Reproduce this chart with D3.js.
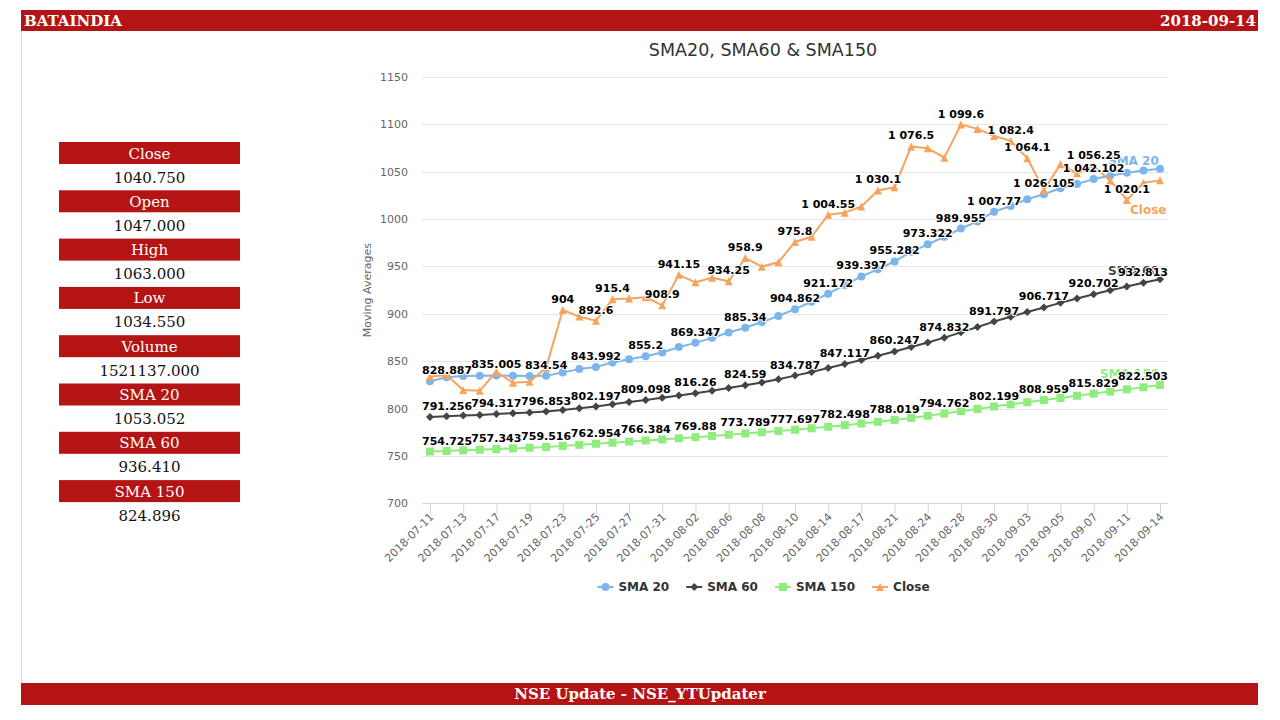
<!DOCTYPE html>
<html>
<head>
<meta charset="utf-8">
<script src="https://cdn.jsdelivr.net/npm/d3@7"></script>
<style>
  body { margin: 0; background: #fff; }
  svg { display: block; }
</style>
</head>
<body>
<svg id="page" width="1280" height="720"></svg>
<script>
// DATA /////////////////////////////////////////
const dates = ["2018-07-11","2018-07-12","2018-07-13","2018-07-16","2018-07-17","2018-07-18","2018-07-19","2018-07-20",
  "2018-07-23","2018-07-24","2018-07-25","2018-07-26","2018-07-27","2018-07-30","2018-07-31","2018-08-01","2018-08-02",
  "2018-08-03","2018-08-06","2018-08-07","2018-08-08","2018-08-09","2018-08-10","2018-08-13","2018-08-14","2018-08-16",
  "2018-08-17","2018-08-20","2018-08-21","2018-08-23","2018-08-24","2018-08-27","2018-08-28","2018-08-29","2018-08-30",
  "2018-08-31","2018-09-03","2018-09-04","2018-09-05","2018-09-06","2018-09-07","2018-09-10","2018-09-11","2018-09-12",
  "2018-09-14"];

const sma20 = [828.887, 833.02, 834.35, 834.71, 835.005, 834.62, 834.48, 834.54, 838.21, 841.65, 843.992, 848.66,
  852.04, 855.2, 859.13, 864.87, 869.347, 874.62, 880.31, 885.34, 891.28, 897.66, 904.862, 912.74, 921.172, 930.25,
  939.397, 946.91, 955.282, 965.38, 973.322, 981.27, 989.955, 997.43, 1007.77, 1013.62, 1020.95, 1026.105, 1032.37,
  1036.84, 1042.102, 1045.63, 1048.86, 1051.14, 1053.052];

const sma60 = [791.256, 792.04, 792.71, 793.35, 794.317, 795.18, 795.93, 796.853, 798.52, 800.34, 802.197, 804.48,
  806.87, 809.098, 811.46, 813.92, 816.26, 818.84, 821.63, 824.59, 827.62, 831.05, 834.787, 838.61, 842.83, 847.117,
  851.34, 855.72, 860.247, 864.91, 869.68, 874.832, 880.41, 886.07, 891.797, 896.94, 901.88, 906.717, 911.56, 916.23,
  920.702, 924.79, 928.83, 932.813, 936.41];

const sma150 = [754.725, 755.31, 755.94, 756.62, 757.343, 758.04, 758.77, 759.516, 760.64, 761.79, 762.954, 764.09,
  765.24, 766.384, 767.51, 768.67, 769.88, 771.15, 772.46, 773.789, 775.08, 776.37, 777.697, 779.22, 780.83, 782.498,
  784.28, 786.13, 788.019, 790.18, 792.43, 794.762, 797.21, 799.68, 802.199, 804.47, 806.71, 808.959, 811.23, 813.51,
  815.829, 818.07, 820.28, 822.503, 824.896];

const closes = [833.6, 835.4, 819.6, 818.9, 838.9, 827.3, 828.4, 843.2, 904, 897.05, 892.6, 915.4, 916.1, 917.45,
  908.9, 941.15, 933.2, 938.05, 934.25, 958.9, 949.7, 954.35, 975.8, 981.3, 1004.55, 1006.7, 1013.15, 1030.1, 1033.4,
  1076.5, 1074.6, 1064.7, 1099.6, 1095.05, 1087.5, 1082.4, 1064.1, 1030.6, 1057.7, 1048.2, 1056.25, 1040.4, 1020.1,
  1038.3, 1040.75];

const seriesNames = ["SMA 20", "SMA 60", "SMA 150", "Close"];
const seriesColors = ["#7cb5ec", "#434348", "#90ed7d", "#f7a35c"];
const seriesSymbols = ["circle", "diamond", "square", "triangle"];
const seriesValues = [sma20, sma60, sma150, closes];

const yTicks = [700, 750, 800, 850, 900, 950, 1000, 1050, 1100, 1150];

const statNames = ["Close", "Open", "High", "Low", "Volume", "SMA 20", "SMA 60", "SMA 150"];
const statValues = ["1040.750", "1047.000", "1063.000", "1034.550", "1521137.000", "1053.052", "936.410", "824.896"];

const symbolName = "BATAINDIA";
const reportDate = "2018-09-14";
const footerText = "NSE Update - NSE_YTUpdater";
const chartTitle = "SMA20, SMA60 & SMA150";
const yTitle = "Moving Averages";

// PAGE FRAME ////////////////////////////////////
const svg = d3.select("#page");
const red = "#b51414";
const serif = "'DejaVu Serif', serif";
const sans = "'DejaVu Sans', sans-serif";

svg.append("line")
  .attr("x1", 21.5).attr("x2", 21.5).attr("y1", 31).attr("y2", 683)
  .attr("stroke", "#d8d8d8");

svg.append("rect").attr("x", 21).attr("y", 10).attr("width", 1237).attr("height", 21).attr("fill", red);
svg.append("text").attr("x", 24).attr("y", 26)
  .attr("font-family", serif).attr("font-weight", "bold").attr("font-size", 15)
  .attr("fill", "#fff").text(symbolName);
svg.append("text").attr("x", 1256).attr("y", 26).attr("text-anchor", "end")
  .attr("font-family", serif).attr("font-weight", "bold").attr("font-size", 15)
  .attr("fill", "#fff").text(reportDate);

svg.append("rect").attr("x", 21).attr("y", 683).attr("width", 1237).attr("height", 22).attr("fill", red);
svg.append("text").attr("x", 640).attr("y", 699).attr("text-anchor", "middle")
  .attr("font-family", serif).attr("font-weight", "bold").attr("font-size", 15)
  .attr("fill", "#fff").text(footerText);

// left stats panel
const statG = svg.append("g")
  .selectAll("g")
  .data(statNames)
  .join("g")
  .attr("transform", (d, i) => `translate(59, ${142 + i * 48.3})`);

statG.append("rect").attr("width", 181).attr("height", 22).attr("fill", red);
statG.append("text")
  .attr("x", 90.5).attr("y", 16.5).attr("text-anchor", "middle")
  .attr("font-family", serif).attr("font-size", 15).attr("fill", "#fff")
  .text((d) => d);
statG.append("text")
  .attr("x", 90.5).attr("y", 40.5).attr("text-anchor", "middle")
  .attr("font-family", serif).attr("font-size", 15).attr("fill", "#111")
  .text((d, i) => statValues[i]);

// CHART /////////////////////////////////////////
const plot = { left: 422, right: 1168, top: 76.8, bottom: 503.4 };

const x = d3.scalePoint().domain(dates).range([430, 1160]);
const y = d3.scaleLinear().domain([700, 1150]).range([plot.bottom, plot.top]);

const chartG = svg.append("g");

chartG.append("text")
  .attr("x", 763).attr("y", 56).attr("text-anchor", "middle")
  .attr("font-family", sans).attr("font-size", 17.5).attr("fill", "#333")
  .text(chartTitle);

// grid + y labels
chartG.append("g")
  .selectAll("line")
  .data(yTicks.filter((t) => t !== 700))
  .join("line")
  .attr("x1", plot.left).attr("x2", plot.right)
  .attr("y1", (d) => Math.round(y(d)) + 0.5).attr("y2", (d) => Math.round(y(d)) + 0.5)
  .attr("stroke", "#e6e6e6");

chartG.append("g")
  .selectAll("text")
  .data(yTicks)
  .join("text")
  .attr("x", 408).attr("y", (d) => y(d) + 4)
  .attr("text-anchor", "end")
  .attr("font-family", sans).attr("font-size", 11).attr("fill", "#666")
  .text((d) => d);

chartG.append("text")
  .attr("transform", `translate(371, ${(plot.top + plot.bottom) / 2}) rotate(-90)`)
  .attr("text-anchor", "middle")
  .attr("font-family", sans).attr("font-size", 11).attr("fill", "#666")
  .text(yTitle);

// x axis
const xAxis = d3.axisBottom(x)
  .tickValues(dates.filter((d, i) => i % 2 === 0))
  .tickSize(10)
  .tickSizeOuter(0);

const xAxisG = chartG.append("g")
  .attr("transform", `translate(0, ${Math.round(plot.bottom) + 0.5})`)
  .call(xAxis);
xAxisG.select(".domain").attr("d", `M${plot.left},0H${plot.right}`).attr("stroke", "#ccd6eb");
xAxisG.selectAll(".tick line").attr("stroke", "#ccd6eb");
xAxisG.selectAll(".tick text")
  .attr("font-family", sans).attr("font-size", 11).attr("fill", "#666")
  .attr("text-anchor", "end")
  .attr("dy", null).attr("y", null)
  .attr("transform", "translate(4, 14) rotate(-45)");

// symbols
const symbolPath = (type, cx, cy, r) => {
  if (type === "circle") {
    const p = d3.path();
    p.arc(cx, cy, r, 0, Math.PI * 2);
    return p.toString();
  }
  if (type === "diamond") return `M${cx},${cy - r}L${cx + r},${cy}L${cx},${cy + r}L${cx - r},${cy}Z`;
  if (type === "square") return `M${cx - r},${cy - r}H${cx + r}V${cy + r}H${cx - r}Z`;
  return `M${cx},${cy - r}L${cx + r},${cy + r}L${cx - r},${cy + r}Z`;
};

const line = d3.line().x((d, i) => x(dates[i])).y((d) => y(d));

const seriesG = chartG.append("g")
  .selectAll("g")
  .data(seriesValues)
  .join("g");

seriesG.append("path")
  .attr("d", (d) => line(d))
  .attr("fill", "none")
  .attr("stroke", (d, i) => seriesColors[i])
  .attr("stroke-width", 2)
  .attr("stroke-linejoin", "round");

seriesG.each(function (vals, s) {
  d3.select(this)
    .selectAll(".marker")
    .data(vals)
    .join("path")
    .attr("class", "marker")
    .attr("d", (v, i) => symbolPath(seriesSymbols[s], x(dates[i]), y(v), 4))
    .attr("fill", seriesColors[s]);
});

// series name labels near the line ends
const nameOffsets = [[-52, -4], [-52, -4], [-60, -7], [-30, 34]];
chartG.append("g")
  .selectAll("text")
  .data(seriesNames)
  .join("text")
  .attr("x", (d, s) => x(dates[dates.length - 1]) + nameOffsets[s][0])
  .attr("y", (d, s) => y(seriesValues[s][dates.length - 1]) + nameOffsets[s][1])
  .attr("font-family", sans).attr("font-size", 12).attr("font-weight", "bold")
  .attr("fill", (d, s) => seriesColors[s])
  .attr("stroke", "#fff").attr("stroke-width", 2).attr("paint-order", "stroke")
  .text((d) => d);

// data labels, hiding the ones that would overlap an earlier label
const fmt = (v) => d3.format(",~f")(v).replace(/,/g, " ");
const labelG = chartG.append("g");
const shown = [];
seriesValues.forEach((vals, s) => {
  vals.forEach((v, i) => {
    const t = labelG.append("text")
      .attr("font-family", sans).attr("font-size", 11).attr("font-weight", "bold")
      .attr("fill", "#000")
      .attr("stroke", "#fff").attr("stroke-width", 2).attr("stroke-linejoin", "round")
      .attr("paint-order", "stroke")
      .attr("text-anchor", "middle")
      .text(fmt(v));
    const w = t.node().getComputedTextLength();
    let left = x(dates[i]) - w / 2;
    left = Math.max(plot.left, Math.min(plot.right - w, left));
    const base = y(v) - 7;
    const box = { x0: left + 1, x1: left + w - 1, y0: base - 10.5, y1: base + 2.5 };
    const hit = shown.some((b) => b.x0 < box.x1 && box.x0 < b.x1 && b.y0 < box.y1 && box.y0 < b.y1);
    if (hit) {
      t.remove();
    } else {
      shown.push(box);
      t.attr("x", left + w / 2).attr("y", base);
    }
  });
});

// legend
const legendG = chartG.append("g");
const items = legendG.selectAll("g")
  .data(seriesNames)
  .join("g");
items.append("text")
  .attr("x", 21).attr("y", 4)
  .attr("font-family", sans).attr("font-size", 12).attr("font-weight", "bold")
  .attr("fill", "#333")
  .text((d) => d);
const widths = [];
items.each(function () {
  widths.push(21 + d3.select(this).select("text").node().getComputedTextLength());
});
const gap = 17;
const total = d3.sum(widths) + gap * (widths.length - 1);
let cursor = 763.5 - total / 2;
items.each(function (d, s) {
  const g = d3.select(this).attr("transform", `translate(${cursor}, 587)`);
  g.append("line").attr("x1", 0).attr("x2", 16).attr("y1", 0).attr("y2", 0)
    .attr("stroke", seriesColors[s]).attr("stroke-width", 2);
  g.append("path").attr("d", symbolPath(seriesSymbols[s], 8, 0, 4)).attr("fill", seriesColors[s]);
  cursor += widths[s] + gap;
});
</script>
</body>
</html>
